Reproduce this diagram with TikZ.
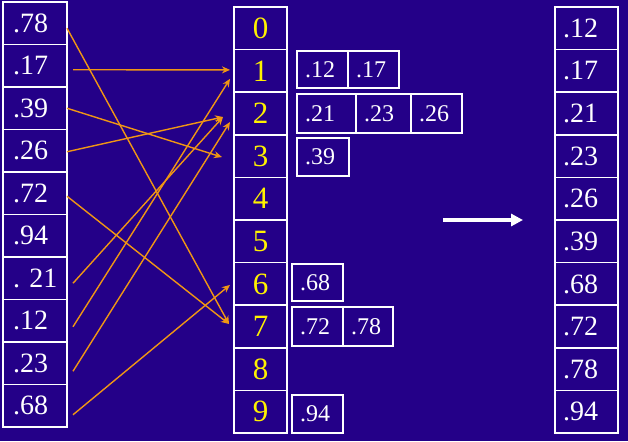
\documentclass[tikz,border=0pt]{standalone}
\usepackage{fontspec}
\setmainfont{Liberation Serif}
\usetikzlibrary{positioning}
\usetikzlibrary{arrows.meta}

\definecolor{slidebg}{RGB}{36,0,136}
\definecolor{arrorange}{RGB}{240,150,20}

\tikzset{
  incell/.style={draw=white,line width=1.6pt,outer sep=0pt,text=white,
    minimum height=42.5pt,text width=44pt,inner xsep=10pt,align=left,
    font=\fontsize{28}{30}\selectfont},
  bktcell/.style={draw=white,line width=1.6pt,outer sep=0pt,text=yellow,
    minimum height=42.6pt,minimum width=53pt,inner sep=0pt,
    font=\fontsize{31}{33}\selectfont},
  outcell/.style={draw=white,line width=1.6pt,outer sep=0pt,text=white,
    minimum height=42.6pt,text width=47pt,inner xsep=8pt,align=left,
    font=\fontsize{28}{30}\selectfont},
  item/.style={draw=white,line width=1.6pt,outer sep=0pt,text=white,
    minimum height=38pt,text width=#1,inner xsep=8pt,align=left,anchor=west,
    font=\fontsize{24}{26}\selectfont},
  scatter/.style={draw=arrorange,line width=1.4pt,-{Stealth[length=8pt,width=7pt]}},
}

\begin{document}
\begin{tikzpicture}[x=1pt,y=-1pt]
      % 背景
      \fill[slidebg] (0,0) rectangle (628,441);
      \useasboundingbox (0,0) rectangle (628,441);

      % 座標確認用グリッド
      %\draw[step=10,lightgray] (0,0) grid (628,441);

      % 入力の列
      \node[incell] (in0) at (35,23.25) {.78};
      \node[incell,below=0pt of in0] (in1) {.17};
      \node[incell,below=0pt of in1] (in2) {.39};
      \node[incell,below=0pt of in2] (in3) {.26};
      \node[incell,below=0pt of in3] (in4) {.72};
      \node[incell,below=0pt of in4] (in5) {.94};
      \node[incell,below=0pt of in5] (in6) {.~21};
      \node[incell,below=0pt of in6] (in7) {.12};
      \node[incell,below=0pt of in7] (in8) {.23};
      \node[incell,below=0pt of in8] (in9) {.68};

      % バケットの列
      \node[bktcell] (b0) at (260.5,28.3) {0};
      \node[bktcell,below=0pt of b0] (b1) {1};
      \node[bktcell,below=0pt of b1] (b2) {2};
      \node[bktcell,below=0pt of b2] (b3) {3};
      \node[bktcell,below=0pt of b3] (b4) {4};
      \node[bktcell,below=0pt of b4] (b5) {5};
      \node[bktcell,below=0pt of b5] (b6) {6};
      \node[bktcell,below=0pt of b6] (b7) {7};
      \node[bktcell,below=0pt of b7] (b8) {8};
      \node[bktcell,below=0pt of b8] (b9) {9};

      % バケットの中身
      \node[item=35pt,minimum height=37pt] (k1a) at (297,69.5) {.12};
      \node[item=35pt,minimum height=37pt] (k1b) at (k1a.east) {.17};
      \node[item=43pt,minimum height=39pt] (k2a) at (297,113.5) {.21};
      \node[item=39pt,minimum height=39pt] (k2b) at (k2a.east) {.23};
      \node[item=35pt,minimum height=39pt] (k2c) at (k2b.east) {.26};
      \node[item=36pt] (k3a) at (297,157) {.39};
      \node[item=35pt,minimum height=37pt] (k6a) at (292,282.5) {.68};
      \node[item=35pt,minimum height=39pt] (k7a) at (292,326.5) {.72};
      \node[item=34pt,minimum height=39pt] (k7b) at (k7a.east) {.78};
      \node[item=35pt] (k9a) at (292,414) {.94};

      % 出力の列
      \node[outcell] (out0) at (586.5,28.3) {.12};
      \node[outcell,below=0pt of out0] (out1) {.17};
      \node[outcell,below=0pt of out1] (out2) {.21};
      \node[outcell,below=0pt of out2] (out3) {.23};
      \node[outcell,below=0pt of out3] (out4) {.26};
      \node[outcell,below=0pt of out4] (out5) {.39};
      \node[outcell,below=0pt of out5] (out6) {.68};
      \node[outcell,below=0pt of out6] (out7) {.72};
      \node[outcell,below=0pt of out7] (out8) {.78};
      \node[outcell,below=0pt of out8] (out9) {.94};

      % 振り分けの矢印
      \draw[scatter] ([yshift=-5pt]in0.east) -- ([xshift=-5pt,yshift=2.5pt]b7.west);
      \draw[scatter] ([xshift=6pt,yshift=-4pt]in1.east) -- ([xshift=-4pt,yshift=1pt]b1.west);
      \draw[scatter] (in2.east) -- ([xshift=-12pt,yshift=-1pt]b3.west);
      \draw[scatter] ([yshift=-1pt]in3.east) -- ([xshift=-11pt,yshift=-3.5pt]b2.west);
      \draw[scatter] ([yshift=-3pt]in4.east) -- ([xshift=-5pt,yshift=2.5pt]b7.west);
      \draw[scatter] ([xshift=6pt,yshift=-5pt]in6.east) -- ([xshift=-11pt,yshift=-3.5pt]b2.west);
      \draw[scatter] ([xshift=6pt,yshift=-6pt]in7.east) -- ([xshift=-4pt,yshift=-8pt]b1.west);
      \draw[scatter] ([xshift=6pt,yshift=-8pt]in8.east) -- ([xshift=-4pt,yshift=-8.5pt]b2.west);
      \draw[scatter] ([xshift=6pt,yshift=-9pt]in9.east) -- ([xshift=-4pt,yshift=-1pt]b6.west);

      % 白い矢印
      \coordinate (gatherS) at (443,220);
      \coordinate (gatherE) at (523,220);
      \draw[white,line width=3.5pt,-{Triangle[length=12pt,width=12pt]}] (gatherS) -- (gatherE);
    \end{tikzpicture}
\end{document}
